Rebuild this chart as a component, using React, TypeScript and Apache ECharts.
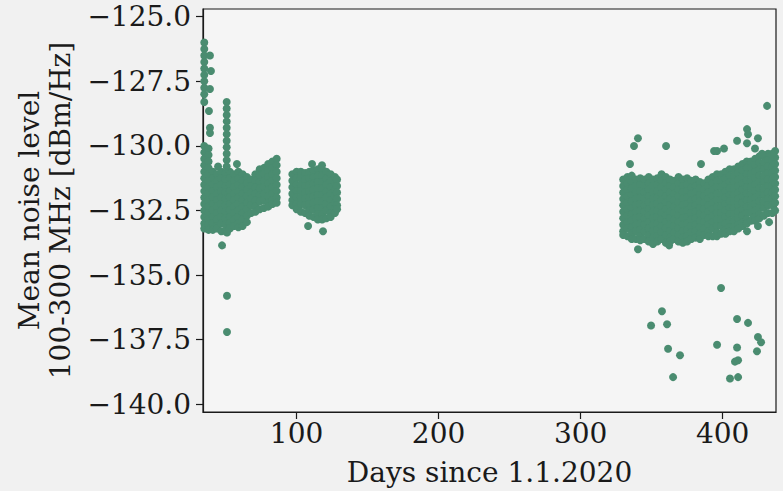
import React, { useEffect, useRef } from "react";
import * as echarts from "echarts";

// ---- data (day since 1.1.2020, mean noise level dBm/Hz) ----
// Dense clusters: each row is [day, value, value, ...]
const earlyColumn: number[][] = [
  [35, -126.0, -126.25, -126.5, -126.75, -127.0, -127.25, -127.5, -127.75, -128.0, -128.3],
];
const spikeColumn: number[][] = [
  [50.8, -128.3, -128.55, -128.8, -129.05, -129.3, -129.55, -129.8, -130.05, -130.3, -130.55, -130.8],
];
const cluster1: number[][] = [
  [35, -130.0, -130.25, -130.5, -130.75, -131.0, -131.25, -131.5, -131.75, -132.0, -132.25, -132.5, -132.75, -133.0, -133.2],
  [38, -130.1, -130.35, -130.6, -130.85, -131.1, -131.35, -131.6, -131.85, -132.1, -132.35, -132.6, -132.85, -133.05, -133.25],
  [41, -131.0, -131.25, -131.5, -131.75, -132.0, -132.25, -132.5, -132.75, -133.0, -133.25],
  [44, -131.1, -131.35, -131.6, -131.85, -132.1, -132.35, -132.6, -132.85, -133.1, -133.2],
  [47, -131.0, -131.25, -131.5, -131.75, -132.0, -132.25, -132.5, -132.75, -133.0, -133.3],
  [50, -131.05, -131.3, -131.55, -131.8, -132.05, -132.3, -132.55, -132.8, -133.05, -133.3],
  [53, -131.0, -131.25, -131.5, -131.75, -132.0, -132.25, -132.5, -132.75, -133.0, -133.2],
  [56, -131.1, -131.35, -131.6, -131.85, -132.1, -132.35, -132.6, -132.85, -133.1],
  [59, -131.0, -131.25, -131.5, -131.75, -132.0, -132.25, -132.5, -132.75, -133.0, -133.15],
  [62, -131.1, -131.35, -131.6, -131.85, -132.1, -132.35, -132.6, -132.85, -133.1],
  [65, -131.2, -131.45, -131.7, -131.95, -132.2, -132.45, -132.7, -132.95],
  [68, -131.3, -131.55, -131.8, -132.05, -132.3, -132.6],
  [71, -131.1, -131.35, -131.6, -131.85, -132.1, -132.35, -132.55],
  [74, -130.9, -131.15, -131.4, -131.65, -131.9, -132.15, -132.45],
  [77, -130.85, -131.1, -131.35, -131.6, -131.85, -132.1, -132.4],
  [80, -130.7, -130.95, -131.2, -131.45, -131.7, -131.95, -132.2, -132.35],
  [83, -130.6, -130.85, -131.1, -131.35, -131.6, -131.85, -132.1, -132.25],
  [86, -130.5, -130.75, -131.0, -131.25, -131.5, -131.75, -132.0, -132.2],
];
const cluster2: number[][] = [
  [97, -131.1, -131.35, -131.6, -131.85, -132.1, -132.3],
  [100, -131.0, -131.25, -131.5, -131.75, -132.0, -132.25, -132.45],
  [103, -131.0, -131.25, -131.5, -131.75, -132.0, -132.25, -132.55],
  [106, -131.05, -131.3, -131.55, -131.8, -132.05, -132.3, -132.6],
  [109, -131.0, -131.25, -131.5, -131.75, -132.0, -132.25, -132.5, -132.7],
  [112, -130.95, -131.2, -131.45, -131.7, -131.95, -132.2, -132.45, -132.75],
  [115, -130.9, -131.15, -131.4, -131.65, -131.9, -132.15, -132.4, -132.65, -132.85],
  [118, -130.9, -131.15, -131.4, -131.65, -131.9, -132.15, -132.4, -132.65, -132.85],
  [121, -131.0, -131.25, -131.5, -131.75, -132.0, -132.25, -132.5, -132.8],
  [124, -131.1, -131.35, -131.6, -131.85, -132.1, -132.35, -132.6, -132.75],
  [127, -131.2, -131.45, -131.7, -131.95, -132.2, -132.45, -132.6],
  [128.5, -131.3, -131.55, -131.8, -132.05, -132.3, -132.45],
];
const cluster3: number[][] = [
  [330, -131.3, -131.55, -131.8, -132.05, -132.3, -132.55, -132.8, -133.05, -133.3, -133.45],
  [333, -131.2, -131.45, -131.7, -131.95, -132.2, -132.45, -132.7, -132.95, -133.2, -133.5],
  [336, -131.15, -131.4, -131.65, -131.9, -132.15, -132.4, -132.65, -132.9, -133.15, -133.4, -133.6],
  [339, -131.3, -131.55, -131.8, -132.05, -132.3, -132.55, -132.8, -133.05, -133.3, -133.6],
  [342, -131.25, -131.5, -131.75, -132.0, -132.25, -132.5, -132.75, -133.0, -133.25, -133.5, -133.65],
  [345, -131.3, -131.55, -131.8, -132.05, -132.3, -132.55, -132.8, -133.05, -133.3, -133.6],
  [348, -131.2, -131.45, -131.7, -131.95, -132.2, -132.45, -132.7, -132.95, -133.2, -133.45, -133.7],
  [351, -131.3, -131.55, -131.8, -132.05, -132.3, -132.55, -132.8, -133.05, -133.3, -133.55, -133.8],
  [354, -131.25, -131.5, -131.75, -132.0, -132.25, -132.5, -132.75, -133.0, -133.25, -133.5, -133.7],
  [357, -131.1, -131.35, -131.6, -131.85, -132.1, -132.35, -132.6, -132.85, -133.1, -133.35, -133.6],
  [360, -131.2, -131.45, -131.7, -131.95, -132.2, -132.45, -132.7, -132.95, -133.2, -133.45, -133.75],
  [363, -131.3, -131.55, -131.8, -132.05, -132.3, -132.55, -132.8, -133.05, -133.3, -133.55, -133.7],
  [366, -131.35, -131.6, -131.85, -132.1, -132.35, -132.6, -132.85, -133.1, -133.35, -133.6],
  [369, -131.2, -131.45, -131.7, -131.95, -132.2, -132.45, -132.7, -132.95, -133.2, -133.45, -133.7],
  [372, -131.3, -131.55, -131.8, -132.05, -132.3, -132.55, -132.8, -133.05, -133.3, -133.55, -133.75],
  [375, -131.25, -131.5, -131.75, -132.0, -132.25, -132.5, -132.75, -133.0, -133.25, -133.5, -133.7],
  [378, -131.35, -131.6, -131.85, -132.1, -132.35, -132.6, -132.85, -133.1, -133.35, -133.6],
  [381, -131.3, -131.55, -131.8, -132.05, -132.3, -132.55, -132.8, -133.05, -133.3, -133.55],
  [384, -131.4, -131.65, -131.9, -132.15, -132.4, -132.65, -132.9, -133.15, -133.4, -133.6],
  [387, -131.45, -131.7, -131.95, -132.2, -132.45, -132.7, -132.95, -133.2, -133.45],
];
const cluster4: number[][] = [
  [390, -131.3, -131.55, -131.8, -132.05, -132.3, -132.55, -132.8, -133.05, -133.3, -133.5],
  [393, -131.2, -131.45, -131.7, -131.95, -132.2, -132.45, -132.7, -132.95, -133.2, -133.5],
  [396, -131.1, -131.35, -131.6, -131.85, -132.1, -132.35, -132.6, -132.85, -133.1, -133.35, -133.5],
  [399, -131.1, -131.35, -131.6, -131.85, -132.1, -132.35, -132.6, -132.85, -133.1, -133.4],
  [402, -131.0, -131.25, -131.5, -131.75, -132.0, -132.25, -132.5, -132.75, -133.0, -133.25, -133.4],
  [405, -130.9, -131.15, -131.4, -131.65, -131.9, -132.15, -132.4, -132.65, -132.9, -133.15, -133.3],
  [408, -130.9, -131.15, -131.4, -131.65, -131.9, -132.15, -132.4, -132.65, -132.9, -133.15, -133.3],
  [411, -130.8, -131.05, -131.3, -131.55, -131.8, -132.05, -132.3, -132.55, -132.8, -133.05, -133.2],
  [414, -130.7, -130.95, -131.2, -131.45, -131.7, -131.95, -132.2, -132.45, -132.7, -132.95, -133.1],
  [417, -130.6, -130.85, -131.1, -131.35, -131.6, -131.85, -132.1, -132.35, -132.6, -132.85, -133.0],
  [420, -130.6, -130.85, -131.1, -131.35, -131.6, -131.85, -132.1, -132.35, -132.6, -132.9],
  [423, -130.5, -130.75, -131.0, -131.25, -131.5, -131.75, -132.0, -132.25, -132.5, -132.75, -132.9],
  [426, -130.4, -130.65, -130.9, -131.15, -131.4, -131.65, -131.9, -132.15, -132.4, -132.65, -132.8],
  [429, -130.4, -130.65, -130.9, -131.15, -131.4, -131.65, -131.9, -132.15, -132.4, -132.7],
  [432, -130.3, -130.55, -130.8, -131.05, -131.3, -131.55, -131.8, -132.05, -132.3, -132.6],
  [435, -130.3, -130.55, -130.8, -131.05, -131.3, -131.55, -131.8, -132.05, -132.3, -132.6],
  [437, -130.2, -130.45, -130.7, -130.95, -131.2, -131.45, -131.7, -131.95, -132.2, -132.5],
];
// Isolated points: [day, value]
const outliers: number[][] = [
  [39.0, -126.5], [39.7, -127.1], [39.0, -127.8], [38.3, -128.65], [39.0, -129.3], [39.0, -129.5],
  [44.7, -130.8], [58.0, -130.7], [51.0, -133.35], [47.5, -133.85], [51.0, -135.8], [51.0, -137.2],
  [110.9, -130.7], [117.9, -130.75], [108.1, -133.1], [118.6, -133.3],
  [340.4, -129.7], [337.6, -130.0], [360.2, -130.0], [334.8, -130.7], [384.8, -130.7],
  [340.4, -134.0], [362.3, -133.85],
  [357.3, -136.4], [349.6, -136.95], [360.9, -136.9], [361.6, -137.85], [370.0, -138.1], [365.1, -138.95],
  [431.3, -128.45], [417.2, -129.35], [417.9, -129.55], [410.2, -129.8], [417.2, -129.9], [424.9, -129.7],
  [422.8, -130.1], [396.1, -130.2], [401.0, -130.1], [394.0, -130.2], [427.8, -130.3], [434.8, -130.35],
  [424.9, -133.1], [432.7, -132.95], [417.2, -133.3],
  [398.9, -135.5], [410.2, -136.7], [417.9, -136.85], [424.9, -137.4], [427.1, -137.6], [396.1, -137.7],
  [410.2, -137.8], [424.2, -137.95], [410.9, -138.3], [408.7, -138.35], [405.2, -139.0], [410.9, -138.95],
];
const xTicks = [100, 200, 300, 400];
const yTicks = [-140, -137.5, -135, -132.5, -130, -127.5, -125];

const FONT = "DejaVu Serif";
const INK = "#1a1a1a";
const GREEN = "#4a8c70";

function columnsToPoints(rows: number[][]): number[][] {
  const out: number[][] = [];
  rows.forEach((r) => r.slice(1).forEach((v) => out.push([r[0], v])));
  return out;
}

export default function App() {
  const ref = useRef<HTMLDivElement>(null);
  useEffect(() => {
    if (!ref.current) return;
    const chart = echarts.init(ref.current, undefined, { renderer: "svg" });
    const points = [
      ...columnsToPoints(earlyColumn),
      ...columnsToPoints(cluster1),
      ...columnsToPoints(spikeColumn),
      ...columnsToPoints(cluster2),
      ...columnsToPoints(cluster3),
      ...columnsToPoints(cluster4),
      ...outliers,
    ];
    chart.setOption({
      animation: false,
      backgroundColor: "#f1f1f1",
      grid: {
        left: 203,
        right: 7,
        top: 9,
        bottom: 77,
        show: true,
        backgroundColor: "#f5f5f5",
        borderColor: INK,
        borderWidth: 1.2,
      },
      xAxis: {
        type: "value",
        min: 34.1,
        max: 437.6,
        splitLine: { show: false },
        axisLine: { show: true, lineStyle: { color: INK, width: 1.2 } },
        axisTick: { show: true, length: 7, customValues: xTicks, lineStyle: { color: INK, width: 1.2 } },
        axisLabel: {
          customValues: xTicks,
          fontFamily: FONT,
          fontSize: 28,
          lineHeight: 26,
          color: INK,
          margin: 8,
          formatter: (v: number) => String(Math.round(v)),
        },
        name: "Days since 1.1.2020",
        nameLocation: "middle",
        nameGap: 46,
        nameTextStyle: { fontFamily: FONT, fontSize: 28, color: INK },
      },
      yAxis: {
        type: "value",
        min: -140.3,
        max: -124.7,
        splitLine: { show: false },
        axisLine: { show: true, lineStyle: { color: INK, width: 1.2 } },
        axisTick: { show: true, length: 7, customValues: yTicks, lineStyle: { color: INK, width: 1.2 } },
        axisLabel: {
          customValues: yTicks,
          fontFamily: FONT,
          fontSize: 28,
          lineHeight: 26,
          color: INK,
          margin: 12,
          formatter: (v: number) => v.toFixed(1).replace("-", "\u2212"),
        },
        name: "Mean noise level\n100-300 MHz [dBm/Hz]",
        nameLocation: "middle",
        nameRotate: 90,
        nameGap: 127,
        nameTextStyle: { fontFamily: FONT, fontSize: 28, color: INK, lineHeight: 31 },
      },
      series: [
        {
          type: "scatter",
          data: points,
          symbolSize: 8,
          itemStyle: { color: GREEN, opacity: 1 },
          silent: true,
        },
      ],
    });
    return () => chart.dispose();
  }, []);
  return (
    <div style={{ position: "fixed", left: 0, top: 0, width: 783, height: 491, background: "#f1f1f1" }}>
      <div ref={ref} style={{ width: 783, height: 491 }} />
    </div>
  );
}
